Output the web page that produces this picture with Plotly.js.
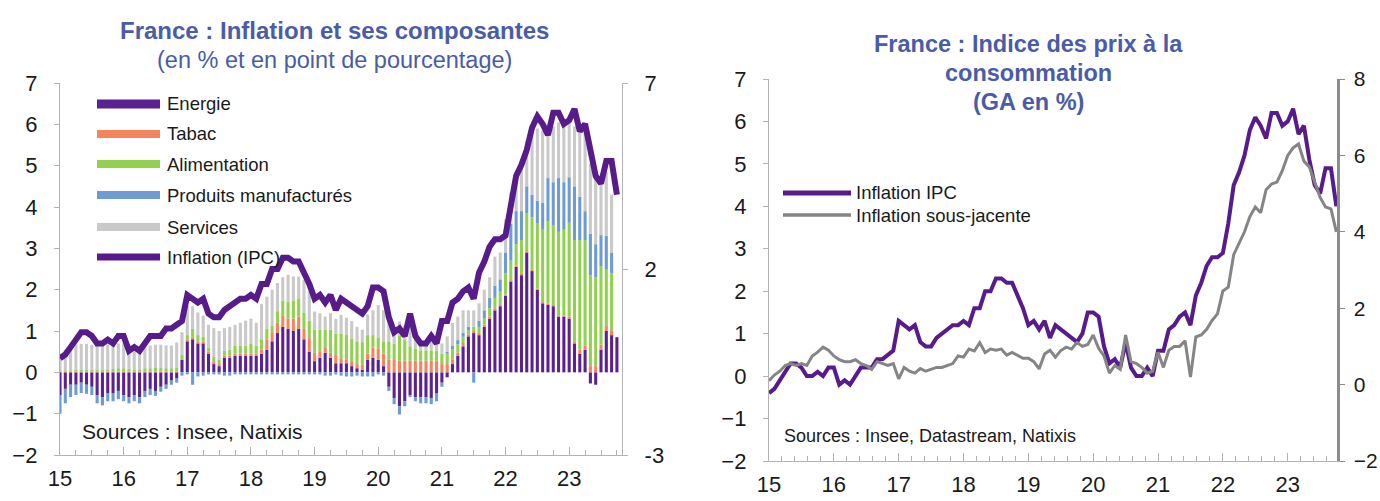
<!DOCTYPE html>
<html>
<head>
<meta charset="utf-8">
<script src="https://cdn.plot.ly/plotly-3.0.1.min.js"></script>
<style>
html,body{margin:0;padding:0;background:#ffffff;}
#chart{width:1380px;height:501px;}
</style>
</head>
<body>
<div id="chart"></div>
<script>
// ---------- Tick labels ----------
const yearTicks  = [2015, 2016, 2017, 2018, 2019, 2020, 2021, 2022, 2023];
const yearLabels = ['15', '16', '17', '18', '19', '20', '21', '22', '23'];

// ---------- Monthly series, Jan 2015 -> Oct 2023 ----------
// Inflation IPC (GA en %)
const ipc = [
  -0.4, -0.3, -0.1, 0.1, 0.3, 0.3, 0.2, 0.0, 0.0, 0.1, 0.0, 0.2,
   0.2, -0.2, -0.1, -0.2, 0.0, 0.2, 0.2, 0.2, 0.4, 0.4, 0.5, 0.6,
   1.3, 1.2, 1.1, 1.2, 0.8, 0.7, 0.7, 0.9, 1.0, 1.1, 1.2, 1.2,
   1.3, 1.2, 1.6, 1.6, 2.0, 2.0, 2.3, 2.3, 2.2, 2.2, 1.9, 1.6,
   1.2, 1.3, 1.1, 1.3, 0.9, 1.2, 1.1, 1.0, 0.9, 0.8, 1.0, 1.5,
   1.5, 1.4, 0.7, 0.3, 0.4, 0.2, 0.8, 0.2, 0.0, 0.0, 0.2, 0.0,
   0.6, 0.6, 1.1, 1.2, 1.4, 1.5, 1.2, 1.9, 2.2, 2.6, 2.8, 2.8,
   2.9, 3.6, 4.5, 4.8, 5.2, 5.8, 6.1, 5.9, 5.6, 6.2, 6.2, 5.9,
   6.0, 6.3, 5.7, 5.9, 5.1, 4.5, 4.3, 4.9, 4.9, 4.0
];
// Inflation sous-jacente (GA en %, échelle de droite)
const sousJacente = [
  0.1, 0.25, 0.35, 0.5, 0.55, 0.5, 0.55, 0.5, 0.75, 0.85, 0.98, 0.9,
  0.75, 0.65, 0.6, 0.6, 0.65, 0.55, 0.5, 0.4, 0.6, 0.55, 0.5, 0.55,
  0.15, 0.45, 0.35, 0.3, 0.42, 0.35, 0.4, 0.45, 0.45, 0.5, 0.55, 0.75,
  0.72, 0.93, 0.88, 1.1, 0.84, 0.93, 0.9, 0.93, 0.77, 0.84, 0.76, 0.69,
  0.69, 0.6, 0.41, 0.8, 0.9, 0.72, 0.89, 0.98, 0.93, 1.1, 1.0, 1.05,
  1.3, 0.95, 0.75, 0.3, 0.5, 0.4, 1.3, 0.6, 0.55, 0.45, 0.3, 0.35,
  0.85, 0.45, 0.9, 1.0, 1.0, 1.15, 0.2, 1.25, 1.3, 1.45, 1.68, 1.85,
  2.45, 2.55, 3.4, 3.7, 4.0, 4.4, 4.65, 4.5, 5.1, 5.25, 5.3, 5.6,
  6.0, 6.2, 6.3, 5.85, 5.7, 5.3, 4.9, 4.65, 4.6, 4.0
];
// Contributions (point de pourcentage)
const energie = [
  -0.55, -0.4, -0.3, -0.3, -0.25, -0.3, -0.35, -0.55, -0.6, -0.5, -0.5, -0.45,
  -0.55, -0.6, -0.55, -0.6, -0.45, -0.4, -0.45, -0.35, -0.3, -0.2, -0.15, 0.3,
  0.75, 0.8, 0.7, 0.7, 0.45, 0.2, 0.15, 0.35, 0.35, 0.4, 0.4, 0.4,
  0.4, 0.4, 0.45, 0.55, 0.75, 0.95, 1.1, 1.05, 1.0, 1.05, 0.8, 0.5,
  0.27, 0.35, 0.47, 0.35, 0.22, 0.22, 0.22, 0.15, 0.1, 0.06, 0.3, 0.35,
  0.3, 0.15, -0.35, -0.62, -0.82, -0.7, -0.55, -0.6, -0.6, -0.6, -0.62, -0.5,
  -0.25, -0.12, 0.2, 0.4, 0.63, 0.87, 0.95, 0.9, 1.1, 1.3, 1.5, 1.6,
  1.85, 2.2, 2.55, 2.35, 2.9, 2.45, 2.0, 1.67, 1.63, 1.6, 1.35, 1.35,
  1.3, 0.7, 0.45, 0.55, -0.27, -0.3, 0.55, 1.0, 0.9, 0.85
];
const tabac = [
  0.02, 0.02, 0.02, 0.02, 0.02, 0.02, 0.02, 0.02, 0.02, 0.02, 0.02, 0.02,
  0.02, 0.02, 0.02, 0.02, 0.02, 0.02, 0.02, 0.02, 0.02, 0.02, 0.02, 0.02,
  0.05, 0.05, 0.05, 0.05, 0.05, 0.05, 0.05, 0.05, 0.05, 0.05, 0.05, 0.05,
  0.05, 0.05, 0.1, 0.25, 0.22, 0.25, 0.28, 0.25, 0.3, 0.3, 0.25, 0.35,
  0.2, 0.16, 0.12, 0.12, 0.2, 0.12, 0.1, 0.12, 0.1, 0.12, 0.15, 0.25,
  0.28, 0.3, 0.3, 0.3, 0.28, 0.28, 0.28, 0.28, 0.28, 0.28, 0.28, 0.28,
  0.2, 0.2, 0.1, 0.08, 0.08, 0.05, 0.05, 0.05, 0.05, 0.05, 0.05, 0.05,
  0.03, 0.03, 0.03, 0.03, 0.03, 0.03, 0.03, 0.03, 0.03, 0.03, 0.03, 0.03,
  0.05, 0.05, 0.1, 0.1, 0.15, 0.15, 0.12, 0.12, 0.12, null
];
const alimentation = [
  0.03, 0.03, 0.03, 0.04, 0.05, 0.05, 0.05, 0.05, 0.05, 0.05, 0.06, 0.08,
  0.08, 0.06, 0.05, 0.05, 0.08, 0.08, 0.1, 0.1, 0.08, 0.08, 0.1, 0.1,
  0.1, 0.2, 0.15, 0.12, 0.1, 0.12, 0.1, 0.12, 0.15, 0.2, 0.2, 0.2,
  0.25, 0.2, 0.25, 0.25, 0.15, 0.28, 0.36, 0.4, 0.44, 0.44, 0.4, 0.4,
  0.56, 0.52, 0.44, 0.56, 0.52, 0.6, 0.6, 0.55, 0.55, 0.55, 0.45, 0.3,
  0.25, 0.3, 0.45, 0.4, 0.6, 0.5, 0.35, 0.3, 0.25, 0.25, 0.25, 0.25,
  0.25, 0.25, 0.25, 0.2, 0.15, 0.1, 0.1, 0.15, 0.15, 0.2, 0.25, 0.3,
  0.52, 0.47, 0.52, 0.82, 0.92, 1.27, 1.57, 1.75, 1.99, 1.92, 2.02, 2.07,
  2.27, 2.45, 2.65, 2.55, 2.2, 2.15, 1.9, 1.38, 1.38, null
];
const produitsManufactures = [
  -0.45, -0.35, -0.3, -0.25, -0.25, -0.22, -0.2, -0.2, -0.2, -0.2, -0.2, -0.2,
  -0.15, -0.15, -0.15, -0.15, -0.15, -0.15, -0.12, -0.12, -0.1, -0.1, -0.1, -0.08,
  -0.05, -0.3, -0.1, -0.08, -0.05, -0.05, -0.05, -0.08, -0.08, -0.05, -0.05, -0.05,
  -0.05, -0.05, -0.05, -0.05, -0.05, -0.05, -0.05, -0.05, -0.05, -0.05, -0.05, -0.05,
  -0.05, -0.05, -0.08, -0.08, -0.05, -0.08, -0.1, -0.1, -0.08, -0.1, -0.1, -0.1,
  -0.05, -0.08, -0.1, -0.15, -0.2, -0.12, -0.05, -0.1, -0.15, -0.15, -0.15, -0.2,
  -0.1, 0.05, 0.1, 0.1, 0.1, 0.08, -0.25, 0.15, 0.2, 0.25, 0.3, 0.3,
  0.5, 0.9, 0.8, 0.7, 0.65, 0.55, 0.55, 0.65, 1.05, 1.05, 1.3, 1.15,
  1.1, 1.3, 1.05, 0.7, 1.0, 0.8, 0.75, 0.8, 0.5, null
];
const services = [
  0.4, 0.5, 0.6, 0.62, 0.62, 0.62, 0.6, 0.6, 0.58, 0.6, 0.6, 0.6,
  0.6, 0.55, 0.58, 0.55, 0.55, 0.55, 0.55, 0.55, 0.55, 0.55, 0.6, 0.55,
  0.7, 0.55, 0.55, 0.5, 0.55, 0.7, 0.7, 0.55, 0.55, 0.5, 0.55, 0.6,
  0.6, 0.55, 0.85, 0.78, 0.88, 0.68, 0.56, 0.66, 0.58, 0.53, 0.79, 0.71,
  0.44, 0.4, 0.32, 0.4, 0.35, 0.45, 0.4, 0.42, 0.35, 0.3, 0.5, 0.6,
  0.8, 0.75, 0.45, 0.35, 0.35, 0.35, 0.55, 0.3, 0.25, 0.25, 0.2, 0.25,
  0.25, 0.37, 0.55, 0.57, 0.54, 0.4, 0.4, 0.42, 0.5, 0.5, 0.7, 0.65,
  0.8, 0.75, 0.9, 1.1, 1.1, 1.45, 1.75, 1.75, 1.3, 1.35, 1.35, 1.4,
  1.35, 1.45, 1.6, 1.95, 1.7, 1.7, 1.4, 1.55, 1.4, null
];

// month positions on a decimal-year axis
const months = ipc.map((_, i) => 2015 + i / 12);

// ---------- styling ----------
const W = 1380, H = 501;
const px = x => x / W;
const py = y => 1 - y / H;
const FONT = 'Liberation Sans, Arial, Helvetica, sans-serif';
const axisGrey = '#b3b3b3';
const titleBlue = '#4a5ca8';
const txt = '#1a1a1a';
const tickFont = {family: FONT, size: 22, color: txt};

const cEnergie = '#5c2190';
const cTabac = '#f4845c';
const cAlim = '#92d050';
const cManuf = '#6e9bd1';
const cServ = '#c9c9c9';
const cIPC = '#581c8a';
const cSJ = '#858585';

function barTrace(name, vals, color) {
  return {type: 'bar', name: name, x: months, y: vals, xaxis: 'x', yaxis: 'y',
          marker: {color: color, line: {width: 0}}, hoverinfo: 'skip'};
}

const traces = [
  barTrace('Energie', energie, cEnergie),
  barTrace('Tabac', tabac, cTabac),
  barTrace('Alimentation', alimentation, cAlim),
  barTrace('Produits manufacturés', produitsManufactures, cManuf),
  barTrace('Services', services, cServ),
  {type: 'scatter', mode: 'lines', name: 'Inflation (IPC)', x: months, y: ipc,
   xaxis: 'x', yaxis: 'y2', line: {color: cIPC, width: 6}, hoverinfo: 'skip'},
  {type: 'scatter', mode: 'lines', name: 'Inflation IPC', x: months, y: ipc,
   xaxis: 'x2', yaxis: 'y3', line: {color: cIPC, width: 4}, hoverinfo: 'skip'},
  {type: 'scatter', mode: 'lines', name: 'Inflation sous-jacente', x: months, y: sousJacente,
   xaxis: 'x2', yaxis: 'y4', line: {color: cSJ, width: 3}, hoverinfo: 'skip'}
];

function xAxis(domain, anchor, range, minorStep) {
  return {domain: domain, anchor: anchor, range: range,
    tickmode: 'array', tickvals: yearTicks, ticktext: yearLabels,
    ticks: 'inside', ticklen: 8, tickwidth: 1, tickcolor: axisGrey,
    showline: true, linecolor: axisGrey, linewidth: 1.2,
    showgrid: false, zeroline: false, tickfont: tickFont, ticklabelstandoff: 3,
    minor: {tickmode: 'linear', tick0: 2015, dtick: minorStep, ticks: 'inside',
            ticklen: 5, tickwidth: 1, tickcolor: axisGrey, showgrid: false},
    fixedrange: true};
}
function yAxis(extra) {
  return Object.assign({ticks: 'outside', ticklen: 5, tickwidth: 1, tickcolor: axisGrey,
    showline: true, linecolor: axisGrey, linewidth: 1.2, showgrid: false, zeroline: false,
    tickfont: tickFont, ticklabelstandoff: 12, fixedrange: true}, extra);
}

const annotations = [];
function addText(text, x, y, size, opts) {
  annotations.push(Object.assign({text: text, xref: 'paper', yref: 'paper', x: px(x), y: py(y),
    xanchor: 'left', yanchor: 'middle', showarrow: false,
    font: {family: FONT, size: size, color: txt}}, opts || {}));
}
// titles
addText('<b>France : Inflation et ses composantes</b>', 334, 31, 24,
  {xanchor: 'center', font: {family: FONT, size: 24, color: titleBlue}});
addText('(en % et en point de pourcentage)', 334, 60, 23.5,
  {xanchor: 'center', font: {family: FONT, size: 23.5, color: titleBlue}});
addText('<b>France : Indice des prix à la</b>', 1028, 44, 23.5,
  {xanchor: 'center', font: {family: FONT, size: 23.5, color: titleBlue}});
addText('<b>consommation</b>', 1028, 73, 23.5,
  {xanchor: 'center', font: {family: FONT, size: 23.5, color: titleBlue}});
addText('<b>(GA en %)</b>', 1028, 102, 23.5,
  {xanchor: 'center', font: {family: FONT, size: 23.5, color: titleBlue}});

// left legend
const legLeft = [
  ['Energie', cEnergie, 104, 9],
  ['Tabac', cTabac, 134, 8],
  ['Alimentation', cAlim, 164, 8],
  ['Produits manufacturés', cManuf, 195, 8],
  ['Services', cServ, 227, 8],
  ['Inflation (IPC)', cIPC, 257, 7]
];
const shapes = [];
legLeft.forEach(function (e) {
  shapes.push({type: 'line', xref: 'paper', yref: 'paper',
    x0: px(97), x1: px(160), y0: py(e[2]), y1: py(e[2]),
    line: {color: e[1], width: e[3]}});
  addText(e[0], 165, e[2], 18.5);
});
// right legend
[['Inflation IPC', cIPC, 193, 5], ['Inflation sous-jacente', cSJ, 215, 3.5]].forEach(function (e) {
  shapes.push({type: 'line', xref: 'paper', yref: 'paper',
    x0: px(783), x1: px(851), y0: py(e[2]), y1: py(e[2]),
    line: {color: e[1], width: e[3]}});
  addText(e[0], 854, e[2], 18.5);
});
// sources
addText('Sources : Insee, Natixis', 80, 431, 21);
addText('Sources : Insee, Datastream, Natixis', 782, 436, 18);

const layout = {
  width: W, height: H,
  margin: {l: 0, r: 0, t: 0, b: 0, pad: 0},
  paper_bgcolor: '#ffffff', plot_bgcolor: 'rgba(0,0,0,0)',
  barmode: 'relative', bargap: 0.42,
  showlegend: false,
  xaxis: xAxis([px(60), px(622)], 'y', [2015, 2023.83], 0.25),
  yaxis: yAxis({domain: [py(455), py(83)], anchor: 'x', range: [-2, 7],
                tickmode: 'linear', tick0: 0, dtick: 1}),
  yaxis2: yAxis({overlaying: 'y', anchor: 'x', side: 'right', range: [-3, 7],
                 tickmode: 'array', tickvals: [-3, 2, 7], ticktext: ['-3', '2', '7']}),
  xaxis2: xAxis([px(769), px(1337)], 'y3', [2015, 2023.76], 0.2),
  yaxis3: yAxis({domain: [py(461), py(79)], anchor: 'x2', range: [-2, 7],
                 tickmode: 'linear', tick0: 0, dtick: 1}),
  yaxis4: yAxis({overlaying: 'y3', anchor: 'x2', side: 'right', range: [-2, 8],
                 tickmode: 'linear', tick0: 0, dtick: 2, linecolor: '#8c8c8c', linewidth: 2.5,
                 tickcolor: '#8c8c8c', ticklabelstandoff: 5,
                 tickfont: {family: FONT, size: 21, color: txt}}),
  annotations: annotations,
  shapes: shapes
};

Plotly.newPlot('chart', traces, layout, {staticPlot: true, displayModeBar: false});
</script>
</body>
</html>
